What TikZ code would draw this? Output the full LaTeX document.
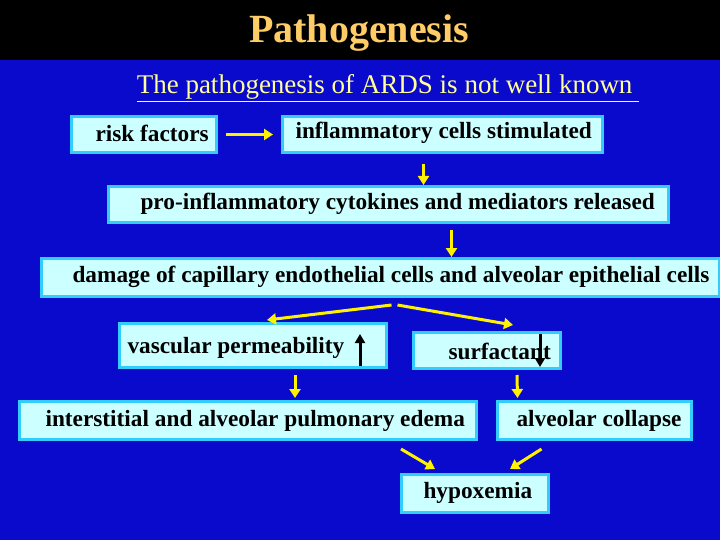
\documentclass[tikz,border=0pt]{standalone}
\usepackage{fontspec}
\setmainfont{Liberation Serif}
\usetikzlibrary{arrows.meta,calc}
\definecolor{bgblue}{HTML}{0A0ACC}
\definecolor{boxfill}{HTML}{CCFFFF}
\definecolor{boxline}{HTML}{33CCFF}
\definecolor{titlec}{HTML}{FFCC66}
\definecolor{subc}{HTML}{FFFF99}
\begin{document}
\begin{tikzpicture}[x=1pt,y=-1pt,
  box/.style={draw=boxline,line width=3pt,fill=boxfill,inner sep=0pt,text=black},
  bt/.style={font=\bfseries\fontsize{23.3}{24}\selectfont,anchor=west},
  ya/.style={draw=yellow,line width=3pt,-{Triangle[length=9pt,width=11pt]}},
  ba/.style={draw=black,line width=3pt,-{Triangle[length=9pt,width=10pt]}}]
\useasboundingbox (0,0) rectangle (720,540);
\fill[bgblue] (0,0) rectangle (720,540);
\fill[black] (0,0) rectangle (720,60);
\node[text=titlec,font=\bfseries\fontsize{40}{44}\selectfont] (title) at (359,33) {Pathogenesis};
\node[text=subc,font=\fontsize{27}{30}\selectfont] (sub) at (388,88) {\underline{The pathogenesis of ARDS is not well known\ }};
\node[box,minimum width=145,minimum height=36,anchor=north west] (risk) at (70,115) {};
\node[bt] (riskt) at (92,133) {risk factors};
\node[box,minimum width=320,minimum height=36,anchor=north west] (infl) at (281,115) {};
\node[bt] (inflt) at (292,133) {inflammatory cells stimulated};
\node[box,minimum width=560,minimum height=36,anchor=north west] (pro) at (107,185) {};
\node[bt] (prot) at (137,204) {pro-inflammatory cytokines and mediators released};
\node[box,minimum width=678,minimum height=38,anchor=north west] (dam) at (40,257) {};
\node[bt] (damt) at (69,277) {damage of capillary endothelial cells and alveolar epithelial cells};
\node[box,minimum width=267,minimum height=44,anchor=north west] (vasc) at (118,322) {};
\node[bt] (vasct) at (124,348) {vascular permeability};
\node[box,minimum width=147,minimum height=36,anchor=north west] (surf) at (412,331) {};
\node[bt] (surft) at (445,351) {surfactant};
\node[box,minimum width=457,minimum height=38,anchor=north west] (inter) at (18,400) {};
\node[bt] (intert) at (42,421) {interstitial and alveolar pulmonary edema};
\node[box,minimum width=194,minimum height=38,anchor=north west] (coll) at (496,400) {};
\node[bt] (collt) at (513,421) {alveolar collapse};
\node[box,minimum width=147,minimum height=38,anchor=north west] (hyp) at (400,473) {};
\node[bt] (hypt) at (420,493) {hypoxemia};
\draw[ya] (risk.east) ++(8,0) coordinate (r1) -- ($(infl.west)+(-8,0)$) coordinate (r2);
\draw[ya] ($(infl.south)+(-19,10)$) coordinate (a1) -- ($(pro.north)+(35,0)$) coordinate (a2);
\draw[ya] ($(pro.south)+(63,6)$) coordinate (b1) -- ($(dam.north)+(71,0)$) coordinate (b2);
\draw[ya] ($(dam.south)+(11,7)$) coordinate (c1) -- ($(vasc.north)+(14,-2)$) coordinate (c2);
\draw[ya] ($(dam.south)+(17,7)$) coordinate (d1) -- ($(surf.north)+(26,-6)$) coordinate (d2);
\draw[ya] ($(vasc.south)+(42,6)$) coordinate (e1) -- ($(inter.north)+(47,-2)$) coordinate (e2);
\draw[ya] ($(surf.south)+(30,5)$) coordinate (f1) -- ($(coll.north)+(-77,-2)$) coordinate (f2);
\draw[ya] ($(inter.south)+(153,8)$) coordinate (g1) -- ($(hyp.north)+(-40,-4)$) coordinate (g2);
\draw[ya] ($(coll.south)+(-53,8)$) coordinate (h1) -- ($(hyp.north)+(35,-4)$) coordinate (h2);
\draw[ba] (360,366) coordinate (u1) -- (360,334) coordinate (u2);
\draw[ba] (540,334) coordinate (v1) -- (540,367) coordinate (v2);
\end{tikzpicture}
\end{document}
